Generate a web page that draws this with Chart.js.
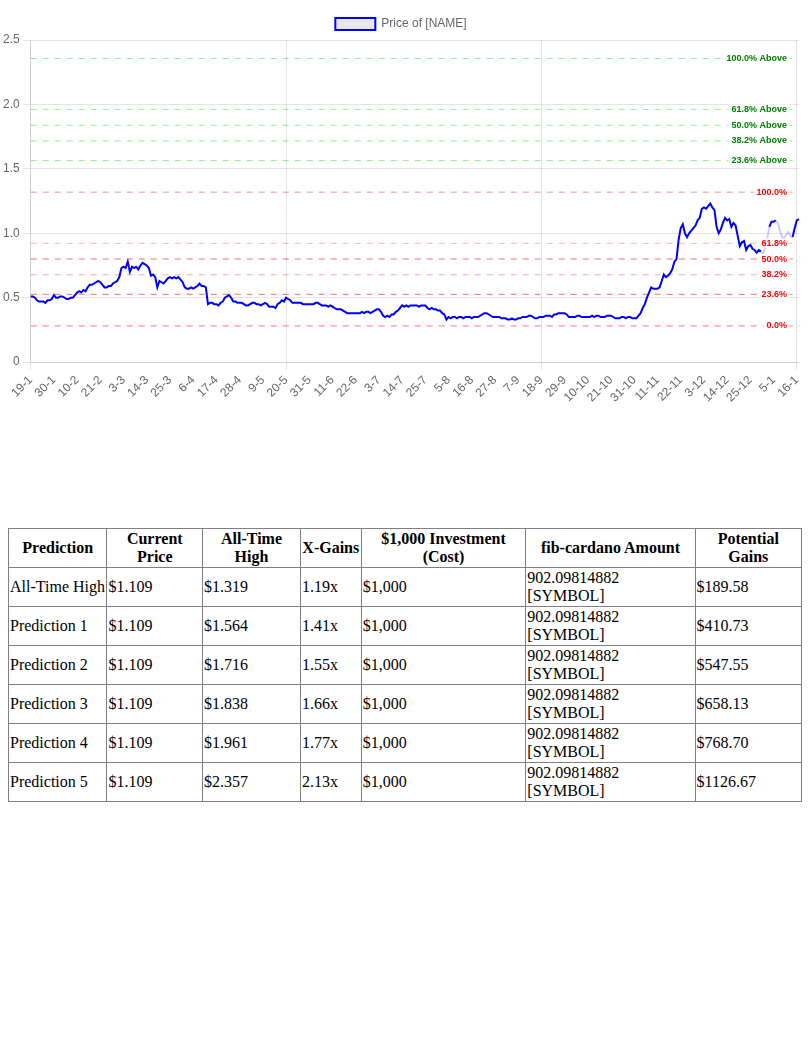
<!DOCTYPE html>
<html><head><meta charset="utf-8">
<script src="https://cdn.jsdelivr.net/npm/chart.js@4"></script>
<style>
body{margin:0;background:#fff;font-family:"Liberation Serif",serif;}
#wrap{position:absolute;left:0;top:8px;width:810px;height:400px;}
table{position:absolute;left:8px;top:528px;width:794px;border-collapse:collapse;font-size:16px;}
th,td{border:1px solid #808080;padding:1px 1px;line-height:18px;}
th{height:36px;text-align:center;}
td{height:36px;text-align:left;}
</style></head><body>
<div id="wrap"><canvas id="c"></canvas></div>
<table id="t"></table>
<script>
const startDate = [2020, 0, 19];
const prices = [
0.51,0.51,0.50,0.48,0.47,0.47,0.47,0.46,0.48,0.48,0.49,
0.52,0.50,0.50,0.51,0.51,0.50,0.49,0.49,0.50,0.50,0.52,
0.54,0.55,0.54,0.56,0.55,0.58,0.60,0.60,0.61,0.62,0.63,
0.62,0.60,0.58,0.58,0.59,0.59,0.61,0.62,0.63,0.66,0.73,
0.74,0.73,0.78,0.70,0.74,0.73,0.74,0.72,0.75,0.77,0.76,
0.75,0.73,0.67,0.68,0.66,0.58,0.63,0.62,0.61,0.63,0.65,
0.66,0.65,0.66,0.65,0.66,0.64,0.62,0.58,0.57,0.57,0.58,
0.57,0.58,0.59,0.61,0.59,0.59,0.58,0.45,0.46,0.46,0.45,
0.45,0.44,0.46,0.47,0.50,0.51,0.52,0.50,0.47,0.47,0.46,
0.46,0.46,0.45,0.44,0.44,0.45,0.46,0.46,0.45,0.45,0.44,
0.45,0.46,0.45,0.43,0.43,0.43,0.42,0.45,0.46,0.48,0.47,
0.50,0.49,0.48,0.46,0.46,0.46,0.46,0.46,0.45,0.45,0.45,
0.45,0.45,0.45,0.46,0.46,0.45,0.44,0.44,0.44,0.43,0.44,
0.43,0.42,0.41,0.41,0.41,0.40,0.39,0.38,0.38,0.38,0.38,
0.38,0.38,0.38,0.39,0.38,0.39,0.39,0.38,0.39,0.40,0.41,
0.41,0.39,0.36,0.35,0.36,0.35,0.37,0.37,0.39,0.40,0.42,
0.44,0.43,0.44,0.43,0.44,0.44,0.44,0.44,0.43,0.44,0.44,
0.44,0.42,0.41,0.42,0.41,0.41,0.40,0.40,0.38,0.37,0.33,
0.35,0.34,0.35,0.35,0.34,0.35,0.35,0.34,0.35,0.35,0.35,
0.34,0.35,0.35,0.35,0.36,0.37,0.38,0.38,0.37,0.36,0.35,
0.35,0.35,0.35,0.34,0.34,0.34,0.33,0.33,0.34,0.33,0.33,
0.34,0.34,0.35,0.35,0.35,0.36,0.36,0.35,0.34,0.34,0.35,
0.35,0.35,0.36,0.36,0.36,0.35,0.37,0.37,0.38,0.38,0.38,
0.38,0.37,0.35,0.35,0.35,0.35,0.36,0.36,0.35,0.35,0.35,
0.35,0.35,0.36,0.35,0.36,0.36,0.35,0.35,0.35,0.36,0.36,
0.36,0.35,0.34,0.34,0.34,0.35,0.35,0.34,0.35,0.35,0.34,
0.34,0.34,0.36,0.38,0.42,0.45,0.50,0.54,0.58,0.57,0.57,
0.57,0.58,0.63,0.68,0.66,0.67,0.69,0.72,0.78,0.80,0.95,
1.04,1.07,1.00,0.97,1.00,1.02,1.04,1.06,1.10,1.12,1.19,
1.20,1.19,1.21,1.23,1.20,1.18,1.05,1.00,1.03,1.08,1.12,
1.10,1.11,1.05,1.08,1.06,0.98,0.90,0.93,0.94,0.87,0.90,
0.91,0.88,0.87,0.85,0.87,0.86,0.84,0.88,0.96,1.05,1.09,
1.09,1.10,1.08,1.02,0.97,0.96,0.99,1.01,0.98,0.97,1.04,
1.10,1.11
];
const lightRanges = [[346,350],[353,361]];
const fibLevels = [0.281, 0.526, 0.678, 0.800, 0.922, 1.319];
const fibNames = ["0.0%","23.6%","38.2%","50.0%","61.8%","100.0%"];
const fibColors = ["rgba(255,0,0,0.55)","rgba(255,0,0,0.6)","rgba(255,0,0,0.35)","rgba(255,0,0,0.6)","rgba(255,0,0,0.3)","rgba(255,0,0,0.45)"];
const aboveLevels = [1.564, 1.716, 1.838, 1.961, 2.357];
const aboveNames = ["23.6% Above","38.2% Above","50.0% Above","61.8% Above","100.0% Above"];
const tableHead = ["Prediction","Current Price","All-Time High","X-Gains","$1,000 Investment (Cost)","fib-cardano Amount","Potential Gains"];
const rowNames = ["All-Time High","Prediction 1","Prediction 2","Prediction 3","Prediction 4","Prediction 5"];
const targets = ["$1.319","$1.564","$1.716","$1.838","$1.961","$2.357"];
const xGains = ["1.19x","1.41x","1.55x","1.66x","1.77x","2.13x"];
const gains = ["$189.58","$410.73","$547.55","$658.13","$768.70","$1126.67"];

// labels: daily dates (one skipped in spring, one repeated in autumn as in original)
const labels = [];
{ let d = new Date(startDate[0], startDate[1], startDate[2], 12);
  for (let i = 0; i < prices.length; i++) {
    labels.push(d.getDate() + "-" + (d.getMonth() + 1));
    const m = d.getMonth(), day = d.getDate();
    if (m === 2 && day === 28) d.setDate(d.getDate() + 2);
    else if (m === 9 && day === 25 && labels.filter(l => l === "25-10").length === 1) {}
    else d.setDate(d.getDate() + 1);
  }
}

const isLight = i => lightRanges.some(r => i >= r[0] && i < r[1]);
const datasets = [{
  label: "Price of [NAME]", data: prices, borderColor: "#0000ff", backgroundColor: "#e8e8e8",
  borderWidth: 2, pointRadius: 0, tension: 0, order: 0,
  segment: { borderColor: ctx => isLight(ctx.p0DataIndex) ? "rgba(0,0,255,0.2)" : undefined }
}];
fibLevels.forEach((v, k) => datasets.push({ label: "fib" + k, data: prices.map(() => v),
  borderColor: fibColors[k], borderWidth: 1, borderDash: [6, 6], pointRadius: 0, fill: false, order: 1 }));
aboveLevels.forEach((v, k) => datasets.push({ label: "above" + k, data: prices.map(() => v),
  borderColor: "rgba(0,220,0,0.45)", borderWidth: 1, borderDash: [6, 6], pointRadius: 0, fill: false, order: 1 }));

const labelPlugin = { id: "fibLabels", afterDatasetsDraw(chart) {
  const c = chart.ctx, y = chart.scales.y, right = chart.chartArea.right - 12;
  c.save(); c.font = "bold 9px Arial"; c.textAlign = "right"; c.textBaseline = "middle";
  const draw = (v, t, col) => { const py = y.getPixelForValue(v), w = c.measureText(t).width;
    c.fillStyle = "rgba(255,255,255,0.8)"; c.fillRect(right - w - 3, py - 5, w + 6, 10);
    c.fillStyle = col; c.fillText(t, right, py); };
  fibLevels.forEach((v, k) => draw(v, fibNames[k], "#ff0000"));
  aboveLevels.forEach((v, k) => draw(v, aboveNames[k], "#008000"));
  c.restore(); } };

new Chart(document.getElementById("c"), {
  type: "line", data: { labels, datasets }, plugins: [labelPlugin],
  options: { responsive: true, maintainAspectRatio: false, animation: false,
    layout: { padding: { right: 8 } },
    plugins: { legend: { labels: { filter: it => it.datasetIndex === 0, boxWidth: 40, boxHeight: 12, color: "#666", font: { size: 12 } } },
      tooltip: { enabled: false } },
    scales: {
      x: { ticks: { autoSkip: false, maxRotation: 45, minRotation: 45, color: "#666", font: { size: 12 },
             callback: (v, i) => i % 11 === 0 ? labels[i] : null },
           grid: { color: ctx => (ctx.index % 11 === 0 ? "rgba(0,0,0,0.1)" : "rgba(0,0,0,0)") } },
      y: { min: 0, max: 2.5, ticks: { stepSize: 0.5, color: "#666", font: { size: 12 },
             callback: v => v === 0 ? "0" : v.toFixed(1) }, grid: { color: "rgba(0,0,0,0.1)" } }
    } }
});

const t = document.getElementById("t");
let h = "<tr>" + tableHead.map(x => "<th>" + x + "</th>").join("") + "</tr>";
rowNames.forEach((n, i) => { h += "<tr><td>" + n + "</td><td>$1.109</td><td>" + targets[i] + "</td><td>" + xGains[i] +
  "</td><td>$1,000</td><td>902.09814882 [SYMBOL]</td><td>" + gains[i] + "</td></tr>"; });
t.innerHTML = h;
const widths = [97, 95, 98, 59, 167, 171, 106];
t.querySelectorAll("tr:first-child th").forEach((th, i) => th.style.width = widths[i] + "px");
</script></body></html>
